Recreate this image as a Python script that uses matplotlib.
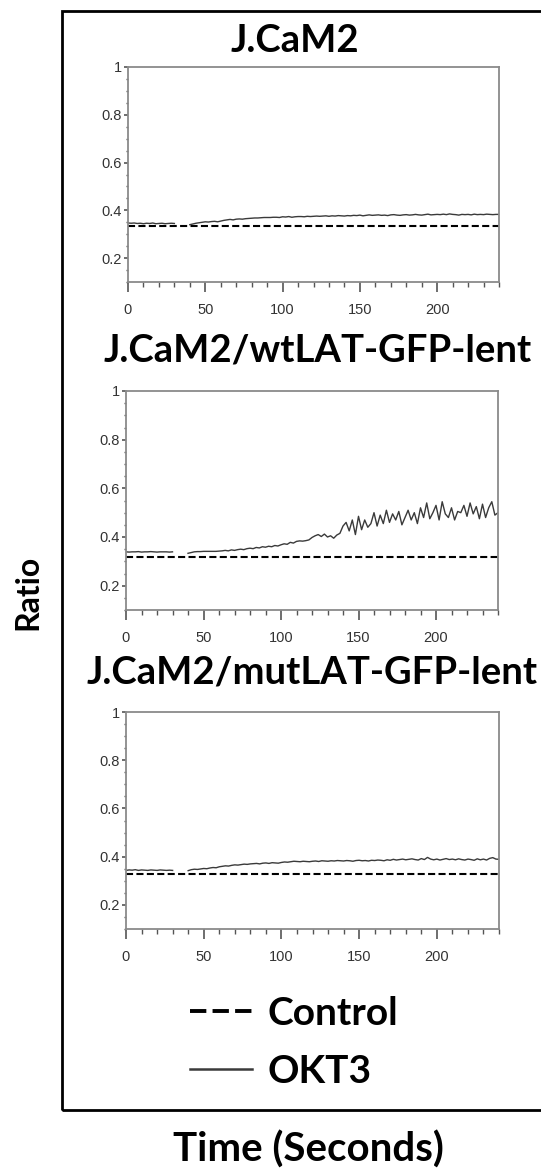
import numpy as np
import matplotlib
matplotlib.use("Agg")
import matplotlib.pyplot as plt
from matplotlib.lines import Line2D
from matplotlib.patches import Rectangle
from matplotlib.ticker import MultipleLocator, FixedLocator

nan = np.nan

# ---------------- data ----------------
panel_titles = ["J.CaM2", "J.CaM2/wtLAT-GFP-lent", "J.CaM2/mutLAT-GFP-lent"]
time_s = np.arange(0, 242, 2)  # seconds, one sample every 2 s

okt3_jcam2 = [
    0.347, 0.346, 0.347, 0.345, 0.346, 0.344, 0.346, 0.345, 0.347, 0.344, 0.345, 0.346, 0.344, 0.345, 0.346, 0.345,
    nan, nan, nan, nan,
    0.340, 0.343, 0.346, 0.348, 0.350, 0.352, 0.351, 0.353, 0.354, 0.352,
    0.355, 0.358, 0.360, 0.362, 0.360, 0.363, 0.364, 0.363, 0.365, 0.366,
    0.367, 0.368, 0.368, 0.369, 0.370, 0.370, 0.370, 0.371, 0.371, 0.370,
    0.373, 0.372, 0.374, 0.371, 0.373, 0.374, 0.374, 0.373, 0.375, 0.374,
    0.375, 0.376, 0.375, 0.376, 0.377, 0.375, 0.377, 0.376, 0.378, 0.377,
    0.376, 0.378, 0.377, 0.379, 0.378, 0.380, 0.377, 0.379, 0.381, 0.379,
    0.380, 0.381, 0.379, 0.380, 0.378, 0.381, 0.382, 0.380, 0.379, 0.381,
    0.382, 0.380, 0.381, 0.383, 0.381, 0.380, 0.382, 0.384, 0.381, 0.382,
    0.383, 0.382, 0.384, 0.382, 0.385, 0.383, 0.382, 0.380, 0.383, 0.382,
    0.383, 0.381, 0.384, 0.382, 0.383, 0.382, 0.384, 0.383, 0.382, 0.383,
    0.383,
]

okt3_wtlat = [
    0.339, 0.338, 0.339, 0.339, 0.340, 0.338, 0.339, 0.339, 0.340, 0.339, 0.338, 0.339, 0.339, 0.339, 0.338, 0.339,
    nan, nan, nan, nan,
    0.333, 0.336, 0.339, 0.340, 0.340, 0.341, 0.341, 0.341, 0.341, 0.341,
    0.342, 0.343, 0.345, 0.343, 0.347, 0.345, 0.348, 0.350, 0.348, 0.352,
    0.354, 0.352, 0.357, 0.355, 0.360, 0.358, 0.362, 0.360, 0.365, 0.363,
    0.368, 0.372, 0.370, 0.378, 0.375, 0.382, 0.384, 0.383, 0.385, 0.388,
    0.398, 0.405, 0.410, 0.402, 0.412, 0.400, 0.405, 0.395, 0.408, 0.415,
    0.445, 0.460, 0.425, 0.470, 0.410, 0.485, 0.430, 0.470, 0.440, 0.455,
    0.500, 0.445, 0.490, 0.455, 0.510, 0.460, 0.495, 0.470, 0.505, 0.450,
    0.480, 0.510, 0.470, 0.500, 0.455, 0.520, 0.480, 0.540, 0.475, 0.500,
    0.530, 0.470, 0.545, 0.495, 0.480, 0.520, 0.470, 0.505, 0.500, 0.530,
    0.485, 0.540, 0.495, 0.525, 0.475, 0.535, 0.480, 0.520, 0.545, 0.490,
    0.500,
]

okt3_mutlat = [
    0.343, 0.345, 0.344, 0.346, 0.343, 0.345, 0.344, 0.343, 0.345, 0.344, 0.343, 0.345, 0.344, 0.343, 0.344, 0.343,
    nan, nan, nan, nan,
    0.342, 0.346, 0.348, 0.347, 0.349, 0.351, 0.350, 0.353, 0.355, 0.354,
    0.358, 0.360, 0.362, 0.361, 0.364, 0.366, 0.365, 0.367, 0.369, 0.368,
    0.370, 0.371, 0.372, 0.370, 0.373, 0.374, 0.372, 0.375, 0.374, 0.373,
    0.376, 0.378, 0.377, 0.379, 0.381, 0.380, 0.379, 0.381, 0.380, 0.379,
    0.381, 0.382, 0.380, 0.383, 0.382, 0.381, 0.383, 0.382, 0.384, 0.383,
    0.382, 0.384, 0.383, 0.381, 0.384, 0.385, 0.383, 0.384, 0.382, 0.385,
    0.384, 0.386, 0.385, 0.383, 0.387, 0.385, 0.389, 0.386, 0.388, 0.390,
    0.387, 0.389, 0.391, 0.388, 0.386, 0.392, 0.388, 0.397, 0.390, 0.387,
    0.390, 0.386, 0.389, 0.392, 0.388, 0.390, 0.387, 0.391, 0.388, 0.386,
    0.390, 0.388, 0.385, 0.391, 0.387, 0.390, 0.386, 0.393, 0.396, 0.390,
    0.389,
]

okt3_series = [okt3_jcam2, okt3_wtlat, okt3_mutlat]
control_levels = [0.333, 0.318, 0.329]

y_ticks = [0.2, 0.4, 0.6, 0.8, 1.0]
y_tick_labels = ["0.2", "0.4", "0.6", "0.8", "1"]
x_ticks = [0, 50, 100, 150, 200]
x_tick_labels = ["0", "50", "100", "150", "200"]

# ---------------- figure ----------------
W, H = 541, 1171
fig = plt.figure(figsize=(W / 100, H / 100), dpi=100)

title_font = ["Lato", "Open Sans", "DejaVu Sans"]
tick_font = ["Liberation Sans Narrow", "Liberation Sans", "DejaVu Sans"]
spine_col = "#8a8a8a"

# axes boxes in pixels: (left, top, right, bottom)
boxes = [(128, 67, 499, 282), (126, 391, 498, 610), (126, 712, 499, 929)]
title_pos = [(295, 41), (318, 350), (312, 673)]

for i, (l, t, r, b) in enumerate(boxes):
    ax = fig.add_axes([l / W, 1 - b / H, (r - l) / W, (b - t) / H])
    ax.plot(time_s, okt3_series[i], color="#3a3a3a", lw=1.0)
    ax.axhline(control_levels[i], color="black", lw=1.5, dashes=(3.4, 1.6))
    ax.set_xlim(0, 240)
    ax.set_ylim(0.1, 1.0)
    ax.xaxis.set_major_locator(FixedLocator(x_ticks))
    ax.set_xticklabels(x_tick_labels)
    ax.xaxis.set_minor_locator(MultipleLocator(10))
    ax.yaxis.set_major_locator(FixedLocator(y_ticks))
    ax.set_yticklabels(y_tick_labels)
    ax.yaxis.set_minor_locator(MultipleLocator(0.05))
    for s in ax.spines.values():
        s.set_color(spine_col)
        s.set_linewidth(1.3)
    ax.tick_params(axis="x", which="major", direction="out", length=7, width=1.2,
                   color="#555555", pad=8, labelsize=10.5, labelcolor="#333333")
    ax.tick_params(axis="x", which="minor", direction="out", length=3.5, width=1.0, color="#555555")
    ax.tick_params(axis="y", which="major", direction="out", length=3, width=1.2,
                   color="#555555", pad=1.5, labelsize=10.5, labelcolor="#333333")
    ax.tick_params(axis="y", which="minor", direction="out", length=1.6, width=1.0, color="#555555")
    for lab in ax.get_xticklabels() + ax.get_yticklabels():
        lab.set_family(tick_font)
    tx, ty = title_pos[i]
    fig.text(tx / W, 1 - ty / H, panel_titles[i], ha="center", va="center",
             fontsize=27.5, fontweight="bold", family=title_font)

# outer frame
fig.patches.append(Rectangle((62 / W, 1 - 1110 / H), (560 - 62) / W, (1110 - 11) / H,
                             transform=fig.transFigure, fill=False, lw=2.0,
                             edgecolor="black", clip_on=False))

# axis labels
fig.text(308 / W, 1 - 1150 / H, "Time (Seconds)", ha="center", va="center",
         fontsize=29, fontweight="bold", family=title_font)
fig.text(28 / W, 1 - 592 / H, "Ratio", ha="center", va="center", rotation=90,
         fontsize=23, fontweight="bold", family=title_font)

# legend
h_ctrl = Line2D([], [], color="black", lw=2.8, dashes=(4.2, 1.6))
h_okt3 = Line2D([], [], color="#3a3a3a", lw=1.8)
fig.legend([h_ctrl, h_okt3], ["Control", "OKT3"], loc="upper left",
           bbox_to_anchor=(190 / W, 1 - 996 / H), frameon=False,
           borderaxespad=0, borderpad=0,
           handlelength=1.6, handletextpad=0.4, labelspacing=0.58,
           prop={"family": title_font, "weight": "bold", "size": 28})

fig.savefig("out.png", dpi=100, facecolor="white")
